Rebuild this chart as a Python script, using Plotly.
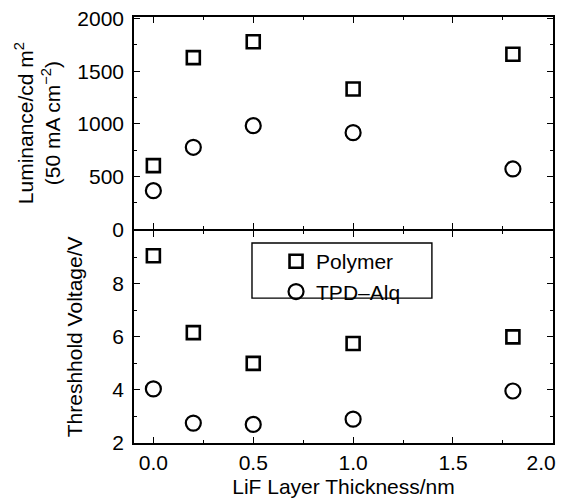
import plotly.graph_objects as go
from plotly.subplots import make_subplots

# Data
thickness = [0.0, 0.2, 0.5, 1.0, 1.8]
lum_polymer = [604, 1629, 1780, 1331, 1661]
lum_tpd = [366, 778, 983, 917, 572]
vth_polymer = [9.06, 6.16, 5.0, 5.75, 6.0]
vth_tpd = [4.04, 2.75, 2.70, 2.90, 3.96]
series_names = ["Polymer", "TPD\u2013Alq"]
x_ticks = [0.0, 0.5, 1.0, 1.5, 2.0]
x_ticklabels = ["0.0", "0.5", "1.0", "1.5", "2.0\u00a0\u00a0\u00a0\u00a0"]
lum_ticks = [0, 500, 1000, 1500, 2000]
vth_ticks = [2, 4, 6, 8]

FONT = "Liberation Sans, Arial, Helvetica, sans-serif"
FS = 21
fig = make_subplots(rows=2, cols=1, shared_xaxes=True, vertical_spacing=0.0037)

sq = dict(symbol="square-open", size=13, color="black", line=dict(width=2.6, color="black"))
ci = dict(symbol="circle-open", size=15, color="black", line=dict(width=2.2, color="black"))

fig.add_trace(go.Scatter(x=thickness, y=lum_polymer, mode="markers", marker=sq,
                         name=series_names[0], showlegend=False), row=1, col=1)
fig.add_trace(go.Scatter(x=thickness, y=lum_tpd, mode="markers", marker=ci,
                         name=series_names[1], showlegend=False), row=1, col=1)
fig.add_trace(go.Scatter(x=thickness, y=vth_polymer, mode="markers", marker=sq,
                         name=series_names[0]), row=2, col=1)
fig.add_trace(go.Scatter(x=thickness, y=vth_tpd, mode="markers", marker=ci,
                         name=series_names[1]), row=2, col=1)

axis_common = dict(showline=True, linecolor="black", linewidth=1.6, mirror="ticks",
                   ticks="inside", ticklen=6, tickwidth=1.4, tickcolor="black",
                   showgrid=False, zeroline=False, automargin=False,
                   tickfont=dict(size=FS, color="black", family=FONT))

fig.update_xaxes(range=[-0.097, 2.0008], tickvals=x_ticks, ticktext=x_ticklabels,
                 ticklabeloverflow="allow",
                 minor=dict(ticks="inside", ticklen=3, tickwidth=1.2, tickcolor="black", dtick=0.25, tick0=0),
                 **axis_common)
fig.update_xaxes(showticklabels=False, row=1, col=1)
fig.update_xaxes(title=dict(text="LiF Layer Thickness/nm", font=dict(size=FS, color="black", family=FONT),
                            standoff=6), ticklabelstandoff=0, row=2, col=1)

fig.update_yaxes(**axis_common)
fig.update_yaxes(range=[0, 2015], tickvals=lum_ticks,
                 minor=dict(ticks="inside", ticklen=3, tickwidth=1.2, tickcolor="black", dtick=250, tick0=0),
                 title=dict(text="Luminance/cd m<sup>2</sup><br>(50 mA cm<sup>\u22122</sup>)",
                            font=dict(size=FS, color="black", family=FONT), standoff=11),
                 ticklabelstandoff=4, row=1, col=1)
fig.update_yaxes(range=[2, 10], tickvals=vth_ticks,
                 minor=dict(ticks="inside", ticklen=3, tickwidth=1.2, tickcolor="black", dtick=1, tick0=0),
                 title=dict(text="Threshhold Voltage/V",
                            font=dict(size=FS, color="black", family=FONT), standoff=24),
                 ticklabelstandoff=4, row=2, col=1)

# legend frame
fig.add_shape(type="rect", xref="paper", yref="paper", x0=0.2816, x1=0.711, y0=0.340, y1=0.4695,
              line=dict(color="black", width=1.4), fillcolor="rgba(0,0,0,0)")

fig.update_layout(
    width=563, height=504,
    margin=dict(l=134, r=10, t=17, b=61, autoexpand=False),
    paper_bgcolor="white", plot_bgcolor="white",
    font=dict(family=FONT, size=FS, color="black"),
    legend=dict(x=0.339, y=0.474, xanchor="left", yanchor="top", bgcolor="rgba(0,0,0,0)",
                borderwidth=0, font=dict(size=FS, color="black", family=FONT),
                tracegroupgap=0, itemsizing="trace"),
)

fig.write_html("out.html", config={"displayModeBar": False},
               post_script="document.body.style.margin='0';document.body.style.overflow='hidden';")
